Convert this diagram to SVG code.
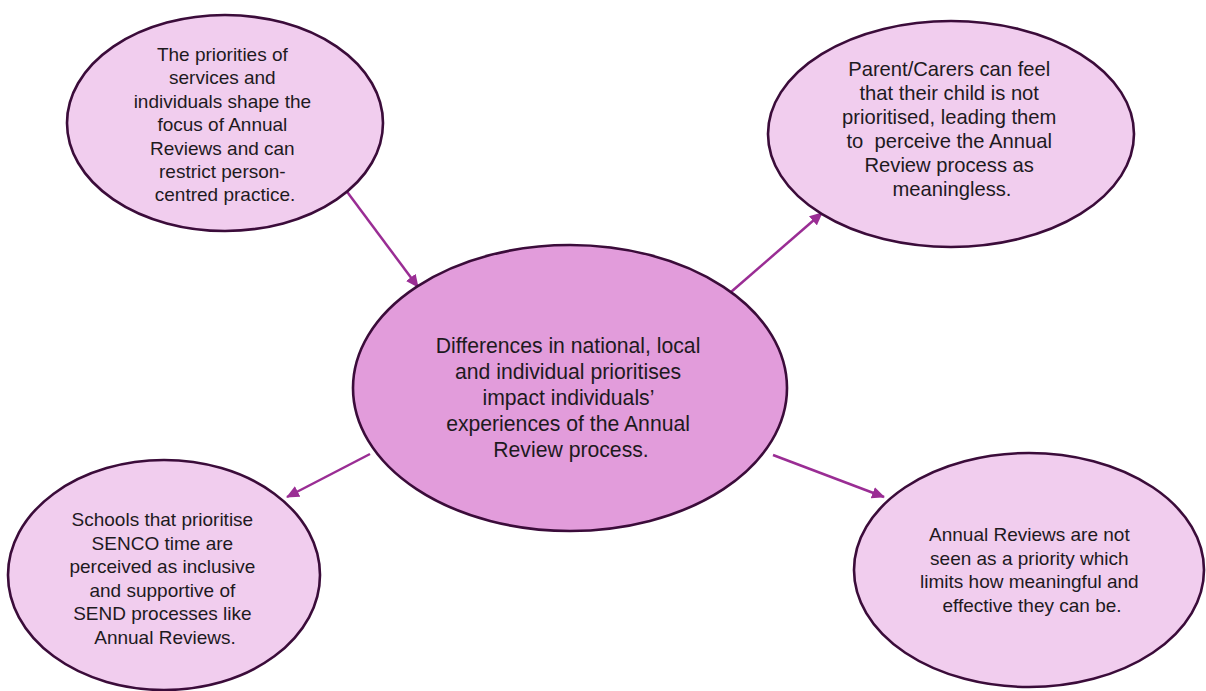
<svg xmlns="http://www.w3.org/2000/svg" width="1206" height="691" viewBox="0 0 1206 691">
  <style>
    .bubble { fill: #F1CDEE; stroke: #3B0C3A; stroke-width: 2.6; }
    .hub { fill: #E29CDB; stroke: #3B0C3A; stroke-width: 2.6; }
    .label { font-family: "Liberation Sans", Arial, sans-serif; font-size: 19px; fill: #1E1A1E; text-anchor: middle; }
    .label-wide { font-size: 20.2px; }
    .hub-label { font-size: 21.2px; }
    .link { stroke: #9A2D94; stroke-width: 2.5; fill: none; marker-end: url(#tip); }
  </style>
  <defs>
    <marker id="tip" markerUnits="userSpaceOnUse" markerWidth="14" markerHeight="12" refX="12" refY="6" orient="auto">
      <path d="M0,0 L13,6 L0,12 Z" fill="#9A2D94"/>
    </marker>
  </defs>

  <rect width="1206" height="691" fill="#FFFFFF"/>

  <!-- connectors from the central theme out to each sub-theme -->
  <g id="connectors">
    <line class="link" x1="345" y1="189" x2="418" y2="287"/>
    <line class="link" x1="731" y1="292" x2="822" y2="213"/>
    <line class="link" x1="370" y1="454" x2="287" y2="497"/>
    <line class="link" x1="773" y1="455" x2="884" y2="497"/>
  </g>

  <g id="node-services">
    <ellipse class="bubble" cx="225" cy="123" rx="158" ry="108"/>
    <text class="label">
      <tspan x="225" y="61">The priorities of</tspan>
      <tspan x="225" y="84.4">services and</tspan>
      <tspan x="225" y="107.8">individuals shape the</tspan>
      <tspan x="225" y="131.2">focus of Annual</tspan>
      <tspan x="225" y="154.6">Reviews and can</tspan>
      <tspan x="225" y="178">restrict person-</tspan>
      <tspan x="225" y="201.4">centred practice.</tspan>
    </text>
  </g>

  <g id="node-parents">
    <ellipse class="bubble" cx="951" cy="134" rx="183" ry="113"/>
    <text class="label label-wide">
      <tspan x="952" y="76">Parent/Carers can feel</tspan>
      <tspan x="952" y="100">that their child is not</tspan>
      <tspan x="952" y="124">prioritised, leading them</tspan>
      <tspan x="952" y="148">to&#160; perceive the Annual</tspan>
      <tspan x="952" y="172">Review process as</tspan>
      <tspan x="952" y="196">meaningless.</tspan>
    </text>
  </g>

  <g id="node-centre">
    <ellipse class="hub" cx="570" cy="388" rx="217" ry="143"/>
    <text class="label hub-label">
      <tspan x="571" y="353">Differences in national, local</tspan>
      <tspan x="571" y="379">and individual prioritises</tspan>
      <tspan x="571" y="405">impact individuals’</tspan>
      <tspan x="571" y="431">experiences of the Annual</tspan>
      <tspan x="571" y="457">Review process.</tspan>
    </text>
  </g>

  <g id="node-schools">
    <ellipse class="bubble" cx="164" cy="575" rx="156" ry="115"/>
    <text class="label">
      <tspan x="165" y="526">Schools that prioritise</tspan>
      <tspan x="165" y="549.5">SENCO time are</tspan>
      <tspan x="165" y="573">perceived as inclusive</tspan>
      <tspan x="165" y="596.5">and supportive of</tspan>
      <tspan x="165" y="620">SEND processes like</tspan>
      <tspan x="165" y="643.5">Annual Reviews.</tspan>
    </text>
  </g>

  <g id="node-annual">
    <ellipse class="bubble" cx="1029" cy="570" rx="175" ry="117"/>
    <text class="label">
      <tspan x="1032" y="541">Annual Reviews are not</tspan>
      <tspan x="1032" y="564.7">seen as a priority which</tspan>
      <tspan x="1032" y="588.4">limits how meaningful and</tspan>
      <tspan x="1032" y="612.1">effective they can be.</tspan>
    </text>
  </g>
</svg>
